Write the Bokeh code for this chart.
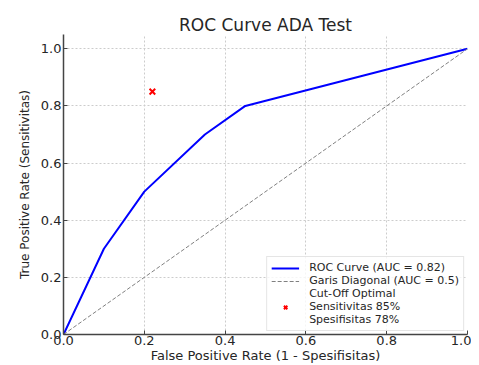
from bokeh.plotting import figure
from bokeh.models import Range1d, FixedTicker, PrintfTickFormatter, Legend, LegendItem
from bokeh.embed import file_html
from bokeh.resources import INLINE

fpr = [0.0, 0.1, 0.2, 0.35, 0.45, 1.0]
tpr = [0.0, 0.3, 0.5, 0.7, 0.8, 1.0]
diag_x = [0.0, 1.0]
diag_y = [0.0, 1.0]
cut_x = [0.22]
cut_y = [0.85]
ticks = [0.0, 0.2, 0.4, 0.6, 0.8, 1.0]
legend_labels = ["ROC Curve (AUC = 0.82)", "Garis Diagonal (AUC = 0.5)",
                 "Cut-Off Optimal", "Sensitivitas 85%", "Spesifisitas 78%"]

FONT = "DejaVu Sans"
TXT = "#262626"

p = figure(width=471, height=365, output_backend="svg", toolbar_location=None,
           x_range=Range1d(0, 1.0), y_range=Range1d(0, 1.05),
           min_border_left=63, min_border_right=4, min_border_top=34, min_border_bottom=24,
           title="ROC Curve ADA Test")
p.title.align = "center"
p.title.text_font = FONT
p.title.text_font_size = "17px"
p.title.text_font_style = "normal"
p.title.text_color = TXT
p.title.standoff = 0
p.outline_line_color = None

for ax in (p.xaxis[0], p.yaxis[0]):
    ax.ticker = FixedTicker(ticks=ticks)
    ax.formatter = PrintfTickFormatter(format="%.1f")
    ax.major_tick_in = 4
    ax.major_tick_out = 0
    ax.minor_tick_line_color = None
    ax.axis_line_color = "#444444"
    ax.axis_line_width = 1.5
    ax.major_tick_line_color = "#444444"
    ax.major_label_text_font = FONT
    ax.major_label_text_font_size = "13px"
    ax.major_label_text_color = TXT
    ax.axis_label_text_font = FONT
    ax.axis_label_text_font_style = "normal"
    ax.axis_label_text_color = TXT
    ax.major_label_standoff = 1
    ax.axis_label_standoff = 0

p.yaxis.major_label_standoff = 2
p.xaxis.axis_label = "False Positive Rate (1 - Spesifisitas)"
p.xaxis.axis_label_text_font_size = "13px"
p.yaxis.axis_label = "True Positive Rate (Sensitivitas)"
p.yaxis.axis_label_text_font_size = "12px"
p.yaxis.axis_label_standoff = 6

p.xgrid.ticker = FixedTicker(ticks=ticks)
p.ygrid.ticker = FixedTicker(ticks=ticks)
p.grid.grid_line_color = "#cccccc"
p.grid.grid_line_dash = "2 2"
p.grid.grid_line_width = 1

r_roc = p.line(fpr, tpr, line_color="#0000ff", line_width=2)
r_diag = p.line(diag_x, diag_y, line_color="#808080", line_width=1, line_dash="4 2")
r_cut = p.scatter(cut_x, cut_y, marker="x", size=8, line_color="#ff0000", line_width=2)

legend = Legend(items=[
    LegendItem(label=legend_labels[0], renderers=[r_roc]),
    LegendItem(label=legend_labels[1], renderers=[r_diag]),
    LegendItem(label=legend_labels[2], renderers=[]),
    LegendItem(label=legend_labels[3], renderers=[r_cut]),
    LegendItem(label=legend_labels[4], renderers=[]),
], location="bottom_right")
legend.label_text_font = FONT
legend.label_text_font_size = "11px"
legend.label_text_color = TXT
legend.label_height = 12
legend.glyph_height = 12
legend.glyph_width = 28
legend.label_standoff = 10
legend.spacing = 0
legend.padding = 4
legend.margin = 3
legend.border_line_color = "#cccccc"
legend.background_fill_alpha = 0.8
p.add_layout(legend)

open("out.html", "w").write(file_html(p, INLINE))
